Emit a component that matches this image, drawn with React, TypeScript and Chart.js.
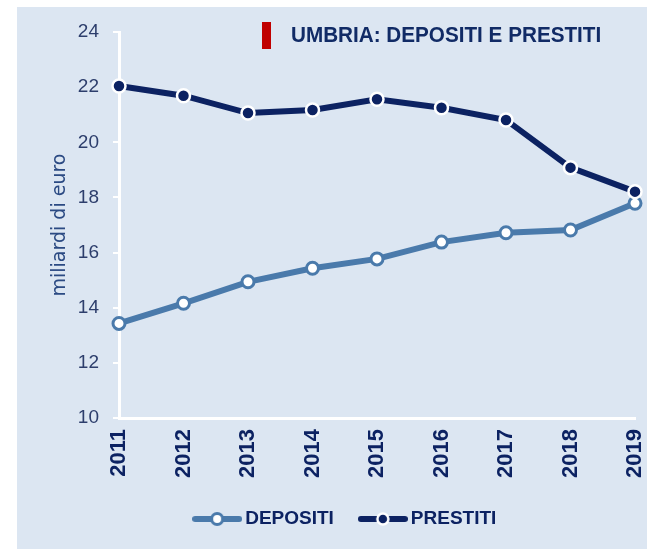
import React, { useEffect, useRef } from 'react';
import { Chart, registerables } from 'chart.js';

Chart.register(...registerables);

const YEARS = ['2011', '2012', '2013', '2014', '2015', '2016', '2017', '2018', '2019'];
const DEPOSITI = [13.43, 14.16, 14.94, 15.43, 15.77, 16.38, 16.72, 16.82, 17.79];
const PRESTITI = [22.04, 21.69, 21.06, 21.17, 21.56, 21.25, 20.81, 19.08, 18.21];
const SERIES_NAMES = ['DEPOSITI', 'PRESTITI'];
const Y_MIN = 10;
const Y_MAX = 24;
const Y_STEP = 2;
const TITLE = 'UMBRIA: DEPOSITI E PRESTITI';
const Y_TITLE = 'miliardi di euro';

const STEEL = '#4a7aab';
const NAVY = '#0c2262';
const BG = '#dce6f2';
const TICK_COLOR = '#2d3e6c';
const YTITLE_COLOR = '#2b4a83';

function legendIcon(line: string, fill: string, stroke: string, bw: number) {
  const c = document.createElement('canvas');
  c.width = 50;
  c.height = 16;
  const g = c.getContext('2d')!;
  g.strokeStyle = line;
  g.lineWidth = 6;
  g.lineCap = 'round';
  g.beginPath();
  g.moveTo(3, 8);
  g.lineTo(47, 8);
  g.stroke();
  g.beginPath();
  g.arc(25, 8, 5.5, 0, Math.PI * 2);
  g.fillStyle = fill;
  g.fill();
  g.lineWidth = bw;
  g.strokeStyle = stroke;
  g.stroke();
  return c;
}

export default function App() {
  const ref = useRef<HTMLCanvasElement>(null);

  useEffect(() => {
    const iconDep = legendIcon(STEEL, '#ffffff', STEEL, 3);
    const iconPre = legendIcon(NAVY, NAVY, '#ffffff', 2.5);
    const chart = new Chart(ref.current!, {
      type: 'line',
      data: {
        labels: YEARS,
        datasets: [
          {
            label: SERIES_NAMES[0],
            data: DEPOSITI,
            borderColor: STEEL,
            borderWidth: 6,
            pointRadius: 6,
            pointBackgroundColor: '#ffffff',
            pointBorderColor: STEEL,
            pointBorderWidth: 3,
            tension: 0,
            order: 2,
            clip: false,
          },
          {
            label: SERIES_NAMES[1],
            data: PRESTITI,
            borderColor: NAVY,
            borderWidth: 6,
            pointRadius: 6.5,
            pointBackgroundColor: NAVY,
            pointBorderColor: '#ffffff',
            pointBorderWidth: 2.5,
            tension: 0,
            order: 1,
            clip: false,
          },
        ],
      },
      options: {
        responsive: false,
        animation: false,
        layout: { padding: { left: 43, right: 12, top: 25, bottom: 10.5 } },
        plugins: {
          tooltip: { enabled: false },
          title: { display: false },
          legend: {
            position: 'bottom',
            labels: {
              usePointStyle: true,
              pointStyleWidth: 37,
              padding: 30.5,
              color: NAVY,
              font: { family: '"Liberation Sans", Arial, sans-serif', weight: 'bold', size: 19 },
              generateLabels: () => [
                {
                  text: SERIES_NAMES[0],
                  pointStyle: iconDep as any,
                  fillStyle: '#ffffff',
                  strokeStyle: STEEL,
                  lineWidth: 0,
                  hidden: false,
                  datasetIndex: 0,
                  fontColor: NAVY,
                },
                {
                  text: SERIES_NAMES[1],
                  pointStyle: iconPre as any,
                  fillStyle: NAVY,
                  strokeStyle: '#ffffff',
                  lineWidth: 0,
                  hidden: false,
                  datasetIndex: 1,
                  fontColor: NAVY,
                },
              ],
            },
          },
        },
        scales: {
          x: {
            type: 'category',
            offset: false,
            grid: { display: false, drawTicks: false, tickLength: 0 },
            border: { display: true, color: '#ffffff', width: 3 },
            ticks: {
              minRotation: 90,
              maxRotation: 90,
              autoSkip: false,
              padding: 11,
              color: NAVY,
              font: { family: '"Liberation Sans", Arial, sans-serif', weight: 'bold', size: 22 },
            },
            afterFit: (s: any) => {
              s.height = 61;
              s.paddingLeft = 0;
              s.paddingRight = 0;
            },
          },
          y: {
            min: Y_MIN,
            max: Y_MAX,
            ticks: {
              stepSize: Y_STEP,
              padding: 14,
              color: TICK_COLOR,
              font: { family: '"Liberation Sans", Arial, sans-serif', size: 19 },
            },
            grid: {
              display: true,
              drawOnChartArea: false,
              drawTicks: true,
              tickLength: 6,
              color: '#ffffff',
              lineWidth: 2,
            },
            border: { display: true, color: '#ffffff', width: 3 },
            title: {
              display: true,
              text: Y_TITLE,
              color: YTITLE_COLOR,
              font: { family: '"DejaVu Sans", sans-serif', size: 19 },
              padding: { top: -11, bottom: 0 },
            },
            afterFit: (s: any) => {
              s.width = 59;
              s.paddingTop = 0;
              s.paddingBottom = 0;
            },
          },
        },
      },
    });
    return () => chart.destroy();
  }, []);

  return (
    <div style={{ position: 'absolute', left: 17, top: 7, width: 630, height: 542, background: BG }}>
      <canvas ref={ref} width={630} height={542} style={{ display: 'block', width: 630, height: 542 }} />
      <div style={{ position: 'absolute', left: 245, top: 15, width: 9, height: 27, background: '#c00000' }} />
      <div
        style={{
          position: 'absolute',
          left: 274,
          top: 17,
          font: 'bold 22px "Liberation Sans", Arial, sans-serif',
          lineHeight: '22px',
          color: '#112b66',
          whiteSpace: 'nowrap',
          transform: 'scaleX(0.94)',
          transformOrigin: '0 0',
        }}
      >
        {TITLE}
      </div>
    </div>
  );
}
